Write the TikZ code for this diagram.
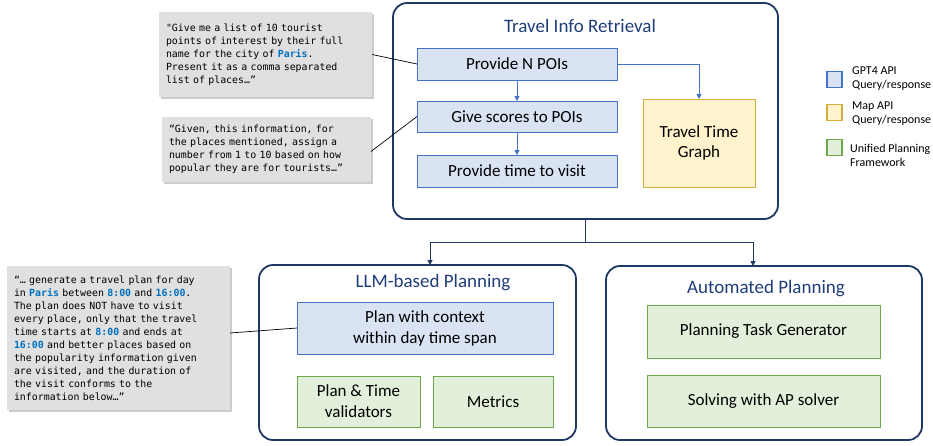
\documentclass[tikz,border=0pt]{standalone}
\usepackage{fontspec}
\setmainfont{Carlito}
\newfontfamily\qmono{DejaVu Sans Mono}
\usetikzlibrary{arrows.meta,shadows}
\definecolor{navy}{HTML}{1F3864}
\definecolor{navytxt}{HTML}{203E7A}
\definecolor{bfill}{HTML}{DAE3F3}
\definecolor{bdraw}{HTML}{4472C4}
\definecolor{yfill}{HTML}{FFF2CC}
\definecolor{ydraw}{HTML}{D6AE3A}
\definecolor{gfill}{HTML}{E2EFDA}
\definecolor{gdraw}{HTML}{6FA84A}
\definecolor{qfill}{HTML}{E0E0E0}
\definecolor{hlblue}{HTML}{0070C0}
\newcommand\qhl[1]{\textcolor{hlblue}{\textbf{#1}}}
\newcommand\qfont{\qmono\fontsize{9.9}{13}\selectfont}
\tikzset{
  box/.style={draw, line width=1pt, outer sep=0pt, inner sep=2pt, align=center,
    font=\fontsize{17}{20}\selectfont, text=black},
  bluebox/.style={box, fill=bfill, draw=bdraw},
  yelbox/.style={box, fill=yfill, draw=ydraw},
  grnbox/.style={box, fill=gfill, draw=gdraw},
  container/.style={draw=navy, line width=1.8pt, rounded corners=14pt, outer sep=0pt, fill=white},
  ctitle/.style={text=navytxt, font=\fontsize{19}{22}\selectfont, inner sep=0pt},
  quote/.style={fill=qfill, draw=none, outer sep=0pt, inner xsep=7pt, inner ysep=0pt,
    align=left, font=\qfont,
    drop shadow={shadow xshift=2pt, shadow yshift=-2pt, fill=black!40, opacity=0.5}},
  blarrow/.style={draw=bdraw, line width=0.9pt, -{Triangle[length=5pt,width=5pt]}},
  nvarrow/.style={draw=navy, line width=1pt, -{Triangle[length=5pt,width=5pt]}},
  qline/.style={draw=black, line width=0.7pt},
  legsq/.style={draw, line width=1.1pt, minimum width=15pt, minimum height=16pt, outer sep=0pt, inner sep=0pt},
  legtxt/.style={anchor=west, align=left, font=\fontsize{12}{14}\selectfont, inner sep=0pt}
}
\begin{document}
\begin{tikzpicture}[x=1pt,y=-1pt]
\useasboundingbox (0,0) rectangle (933,445);

% Travel Info Retrieval
\node[container, minimum width=385pt, minimum height=216pt] (tir) at (585.5,111) {};
\node[ctitle] (tirt) at (580,26) {Travel Info Retrieval};
\node[bluebox, minimum width=200pt, minimum height=32pt] (pn) at (517,64) {Provide N POIs};
\node[bluebox, minimum width=200pt, minimum height=31pt] (gs) at (517,116.5) {Give scores to POIs};
\node[bluebox, minimum width=200pt, minimum height=32pt] (pt) at (517,171) {Provide time to visit};
\node[yelbox, minimum width=112pt, minimum height=88pt] (ttg) at (699,143) {Travel Time\\Graph};

\draw[blarrow] (pn.south) -- (gs.north);
\draw[blarrow] (gs.south) -- (pt.north);
\draw[blarrow] (pn.east) -| (ttg.north);

% LLM-based planning
\node[container, minimum width=317pt, minimum height=175pt] (llm) at (417.5,352.5) {};
\node[ctitle] (llmt) at (433,283) {LLM-based Planning};
\node[bluebox, minimum width=256pt, minimum height=52pt, font=\fontsize{17}{21}\selectfont] (pwc) at (425,328) {Plan with context\\within day time span};
\node[grnbox, minimum width=123pt, minimum height=51pt, font=\fontsize{17}{21}\selectfont] (ptv) at (358.5,401.5) {Plan \& Time\\validators};
\node[grnbox, minimum width=120pt, minimum height=51pt] (met) at (493,401.5) {Metrics};

% Automated planning
\node[container, minimum width=316pt, minimum height=174pt] (ap) at (764,353) {};
\node[ctitle] (apt) at (766,289) {Automated Planning};
\node[grnbox, minimum width=233pt, minimum height=53pt] (ptg) at (763.5,331.5) {Planning Task Generator};
\node[grnbox, minimum width=233pt, minimum height=52pt] (sap) at (763.5,401) {Solving with AP solver};

% connectors between containers
\coordinate (split) at (585.5,242);
\draw[navy, line width=1pt] (tir.south) -- (split);
\draw[nvarrow] (split) -| ([xshift=12.5pt]llm.north);
\draw[nvarrow] (split) -| ([xshift=-11pt]ap.north);

% Quotes
\node[quote, text width=199pt, minimum height=85pt] (q1) at (265.5,54.5)
{\qfont "Give me a list of 10 tourist\\points of interest by their full\\name for the city of \qhl{Paris}.\\Present it as a comma separated\\list of places…”};
\node[quote, text width=195pt, minimum height=65pt] (q2) at (266.5,149.5)
{\qfont “Given, this information, for\\the places mentioned, assign a\\number from 1 to 10 based on how\\popular they are for tourists…”};
\node[quote, text width=209pt, minimum height=144pt] (q3) at (118.5,338)
{\qfont “… generate a travel plan for day\\in \qhl{Paris} between \qhl{8:00} and \qhl{16:00}.\\The plan does NOT have to visit\\every place, only that the travel\\time starts at \qhl{8:00} and ends at\\\qhl{16:00} and better places based on\\the popularity information given\\are visited, and the duration of\\the visit conforms to the\\information below…”};

\draw[qline] (q1.east) -- (pn.west);
\draw[qline] ([yshift=-2pt]q2.east) -- (gs.west);
\draw[qline] ([yshift=5pt]q3.east) -- (pwc.west);

% Legend
\node[legsq, draw=bdraw, fill=bfill] (lg1) at (834.5,79.5) {};
\node[legsq, draw=ydraw, fill=yfill] (lg2) at (834.5,112.5) {};
\node[legsq, draw=gdraw, fill=gfill] (lg3) at (834.5,147.5) {};
\node[legtxt] (lt1) at (852,79) {GPT4 API\\Query/response};
\node[legtxt] (lt2) at (852,114) {Map API\\Query/response};
\node[legtxt] (lt3) at (850,155) {Unified Planning\\Framework};
\end{tikzpicture}
\end{document}
